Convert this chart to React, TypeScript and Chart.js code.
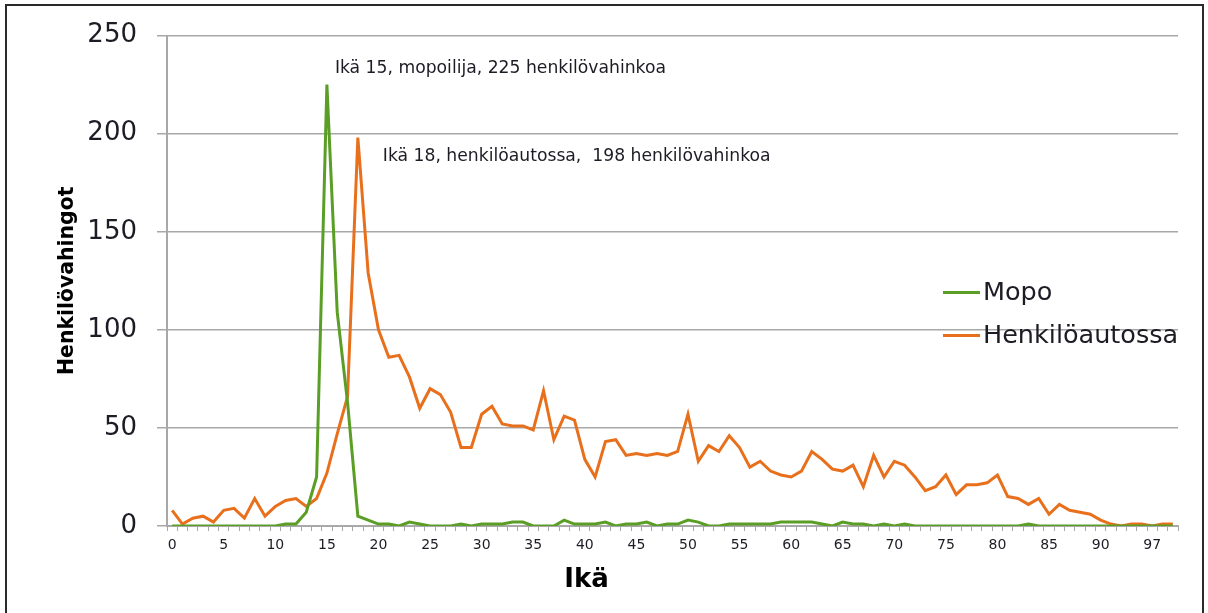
import React, { useEffect, useRef } from "react";
import { Chart, registerables } from "chart.js";

Chart.register(...registerables);

// Age categories (x axis)
const ages: string[] = [
  "0","1","2","3","4","5","6","7","8","9",
  "10","11","12","13","14","15","16","17","18","19",
  "20","21","22","23","24","25","26","27","28","29",
  "30","31","32","33","34","35","36","37","38","39",
  "40","41","42","43","44","45","46","47","48","49",
  "50","51","52","53","54","55","56","57","58","59",
  "60","61","62","63","64","65","66","67","68","69",
  "70","71","72","73","74","75","76","77","78","79",
  "80","81","82","83","84","85","86","87","88","89",
  "90","91","92","93","96","97","98","99",
];

// Mopo (moped riders)
const mopo: number[] = [
  0,0,0,0,0,0,0,0,0,0,
  0,1,1,7,25,225,109,63,5,3,
  1,1,0,2,1,0,0,0,1,0,
  1,1,1,2,2,0,0,0,3,1,
  1,1,2,0,1,1,2,0,1,1,
  3,2,0,0,1,1,1,1,1,2,
  2,2,2,1,0,2,1,1,0,1,
  0,1,0,0,0,0,0,0,0,0,
  0,0,0,1,0,0,0,0,0,0,
  0,0,0,0,0,0,0,0,
];

// Henkilöautossa (in a passenger car)
const henkiloauto: number[] = [
  8,1,4,5,2,8,9,4,14,5,
  10,13,14,10,14,27,47,66,198,129,
  100,86,87,76,60,70,67,58,40,40,
  57,61,52,51,51,49,69,44,56,54,
  34,25,43,44,36,37,36,37,36,38,
  57,33,41,38,46,40,30,33,28,26,
  25,28,38,34,29,28,31,20,36,25,
  33,31,25,18,20,26,16,21,21,22,
  26,15,14,11,14,6,11,8,7,6,
  3,1,0,1,1,0,1,1,
];

const yTicks: number[] = [0, 50, 100, 150, 200, 250];

const GREEN = "#5a9e26";
const ORANGE = "#e8701c";
const GRID = "#a8a8a8";
const TEXT = "#1c1c24";
const FONT = "'DejaVu Sans', sans-serif";

function peakOf(arr: number[]) {
  let idx = 0;
  arr.forEach((v, i) => { if (v > arr[idx]) idx = i; });
  return { idx, value: arr[idx] };
}

const annotationPlugin = {
  id: "peakNotes",
  afterDatasetsDraw(chart: any) {
    const { ctx, scales } = chart;
    const xs = scales.x, ys = scales.y;
    const p1 = peakOf(mopo);
    const p2 = peakOf(henkiloauto);
    ctx.save();
    ctx.font = `17.2px ${FONT}`;
    ctx.fillStyle = TEXT;
    ctx.textBaseline = "middle";
    ctx.textAlign = "left";
    ctx.fillText(
      `Ikä ${ages[p1.idx]}, mopoilija, ${p1.value} henkilövahinkoa`,
      xs.getPixelForValue(p1.idx) + 8,
      ys.getPixelForValue(p1.value) - 16
    );
    ctx.fillText(
      `Ikä ${ages[p2.idx]}, henkilöautossa,  ${p2.value} henkilövahinkoa`,
      xs.getPixelForValue(p2.idx) + 25,
      ys.getPixelForValue(p2.value) + 19
    );
    ctx.restore();
  },
};

const legendPlugin = {
  id: "innerLegend",
  afterDraw(chart: any) {
    const { ctx, chartArea } = chart;
    const x0 = chartArea.right - 235;
    const rows = [chartArea.top + 257, chartArea.top + 300];
    ctx.save();
    chart.data.datasets.forEach((ds: any, i: number) => {
      const yy = rows[i];
      ctx.strokeStyle = ds.borderColor;
      ctx.lineWidth = 3;
      ctx.beginPath();
      ctx.moveTo(x0, yy);
      ctx.lineTo(x0 + 37, yy);
      ctx.stroke();
      ctx.font = `25.5px ${FONT}`;
      ctx.fillStyle = TEXT;
      ctx.textBaseline = "middle";
      ctx.textAlign = "left";
      ctx.fillText(ds.label, x0 + 40, yy + 1);
    });
    ctx.restore();
  },
};

const xTitlePlugin = {
  id: "xTitle",
  afterDraw(chart: any) {
    const { ctx, chartArea } = chart;
    ctx.save();
    ctx.font = `bold 26px ${FONT}`;
    ctx.fillStyle = "#000";
    ctx.textAlign = "center";
    ctx.textBaseline = "middle";
    ctx.fillText(
      "Ikä",
      chartArea.left + (chartArea.right - chartArea.left) * 0.415,
      chartArea.bottom + 54
    );
    ctx.restore();
  },
};

export default function App() {
  const ref = useRef<HTMLCanvasElement | null>(null);

  useEffect(() => {
    if (!ref.current) return;
    const chart = new Chart(ref.current, {
      type: "line",
      data: {
        labels: ages,
        datasets: [
          {
            label: "Mopo",
            data: mopo,
            borderColor: GREEN,
            backgroundColor: GREEN,
            borderWidth: 3,
            pointRadius: 0,
            tension: 0,
          },
          {
            label: "Henkilöautossa",
            data: henkiloauto,
            borderColor: ORANGE,
            backgroundColor: ORANGE,
            borderWidth: 3,
            pointRadius: 0,
            tension: 0,
          },
        ],
      },
      options: {
        responsive: false,
        animation: false,
        layout: { padding: { left: 0, right: 30, top: 33, bottom: 0 } },
        plugins: {
          legend: { display: false },
          tooltip: { enabled: false },
        },
        scales: {
          x: {
            type: "category",
            offset: true,
            grid: {
              display: true,
              drawOnChartArea: false,
              drawTicks: true,
              tickLength: 5,
              color: GRID,
              lineWidth: 1,
              offset: true,
            },
            border: { display: true, color: GRID, width: 2 },
            ticks: {
              autoSkip: false,
              maxRotation: 0,
              minRotation: 0,
              padding: 6,
              color: TEXT,
              font: { family: FONT, size: 14 },
              callback: (_v: any, i: number) => (i % 5 === 0 ? ages[i] : ""),
            },
            title: { display: false },
            afterFit: (s: any) => { s.height = 87; },
          },
          y: {
            min: 0,
            max: 250,
            afterBuildTicks: (s: any) => { s.ticks = yTicks.map((v) => ({ value: v })); },
            grid: { color: GRID, lineWidth: 1.5, tickLength: 10, drawTicks: true },
            border: { display: true, color: GRID, width: 2 },
            ticks: {
              padding: 20,
              color: TEXT,
              font: { family: FONT, size: 26 },
            },
            title: {
              display: true,
              text: "Henkilövahingot",
              color: "#000",
              font: { family: FONT, size: 20.4, weight: "bold" },
              padding: { top: 55, bottom: 0 },
            },
            afterFit: (s: any) => { s.width = 167; },
          },
        },
      },
      plugins: [annotationPlugin, legendPlugin, xTitlePlugin],
    } as any);
    return () => chart.destroy();
  }, []);

  return (
    <div
      style={{
        position: "fixed",
        left: 0,
        top: 0,
        width: 1208,
        height: 613,
        overflow: "hidden",
        background: "#fff",
      }}
    >
      <div
        style={{
          position: "absolute",
          left: 5,
          top: 4,
          width: 1195,
          height: 700,
          border: "2px solid #2a2a2a",
        }}
      />
      <canvas
        ref={ref}
        width={1208}
        height={613}
        style={{ position: "absolute", left: 0, top: 0, width: 1208, height: 613 }}
      />
    </div>
  );
}
